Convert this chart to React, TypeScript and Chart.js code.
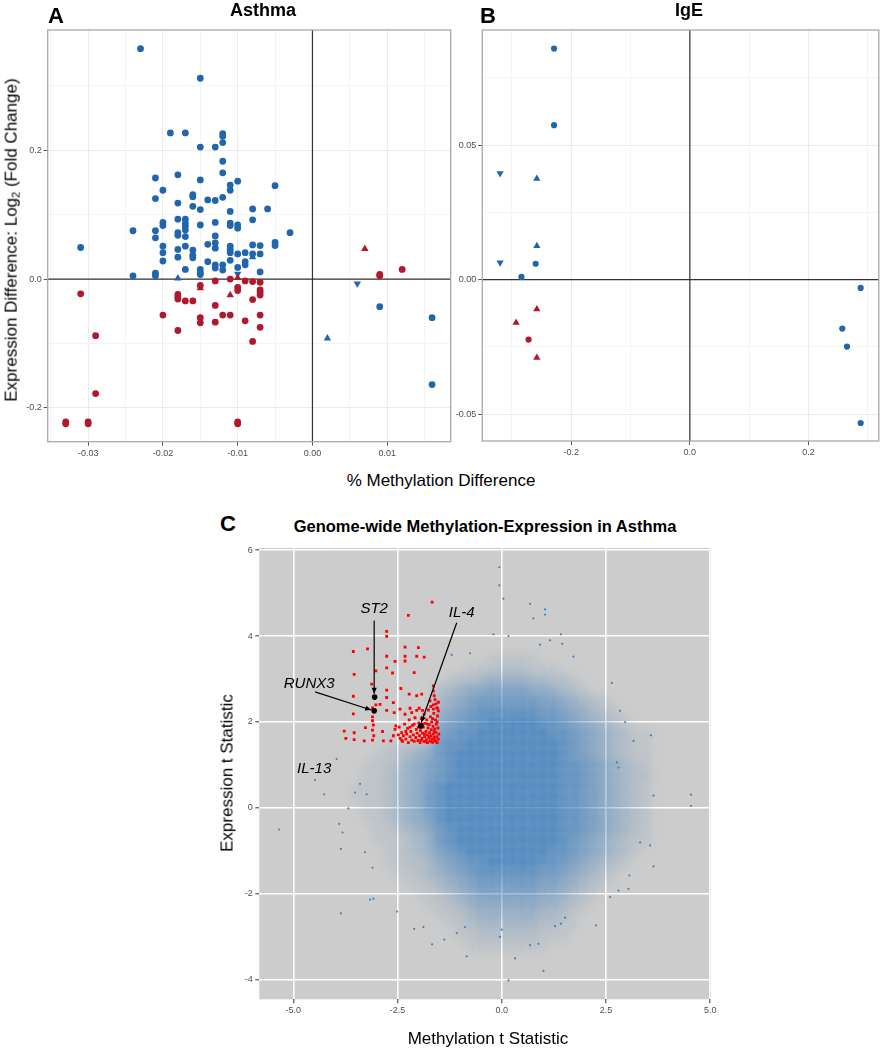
import React, { useEffect, useRef } from "react";
import { Chart, registerables } from "chart.js";
Chart.register(...registerables);

type P = [number, number];

// ---------- Panel A: Asthma ----------
const asthmaBlueCircles: P[] = [
  [-0.023, 0.358], [-0.015, 0.312], [-0.019, 0.227], [-0.017, 0.227], [-0.012, 0.226], [-0.012, 0.222],
  [-0.012, 0.212], [-0.015, 0.205], [-0.013, 0.205], [-0.012, 0.183], [-0.012, 0.165], [-0.021, 0.157],
  [-0.018, 0.162], [-0.015, 0.154], [-0.011, 0.146], [-0.011, 0.138], [-0.010, 0.152], [-0.005, 0.145],
  [-0.020, 0.138], [-0.021, 0.125], [-0.016, 0.131], [-0.016, 0.128], [-0.018, 0.118], [-0.016, 0.113],
  [-0.015, 0.108], [-0.014, 0.123], [-0.013, 0.122], [-0.012, 0.127], [-0.011, 0.105], [-0.008, 0.109],
  [-0.006, 0.109], [-0.018, 0.093], [-0.017, 0.093], [-0.013, 0.088], [-0.008, 0.092], [-0.024, 0.075],
  [-0.021, 0.075], [-0.021, 0.064], [-0.020, 0.088], [-0.020, 0.083], [-0.017, 0.087], [-0.017, 0.082],
  [-0.017, 0.076], [-0.017, 0.066], [-0.018, 0.072], [-0.018, 0.068], [-0.015, 0.084], [-0.013, 0.067],
  [-0.013, 0.056], [-0.013, 0.048], [-0.011, 0.087], [-0.011, 0.083], [-0.010, 0.084], [-0.010, 0.079],
  [-0.003, 0.072], [-0.031, 0.049], [-0.020, 0.051], [-0.020, 0.041], [-0.020, 0.028], [-0.018, 0.046],
  [-0.018, 0.034], [-0.017, 0.051], [-0.017, 0.015], [-0.016, 0.045], [-0.016, 0.037], [-0.016, 0.033],
  [-0.015, 0.015], [-0.015, 0.010], [-0.015, 0.007], [-0.014, 0.054], [-0.014, 0.027], [-0.013, 0.022],
  [-0.013, 0.017], [-0.012, 0.022], [-0.012, 0.014], [-0.011, 0.051], [-0.011, 0.046], [-0.011, 0.041],
  [-0.011, 0.029], [-0.010, 0.039], [-0.010, 0.018], [-0.009, 0.041], [-0.009, 0.027], [-0.009, 0.022],
  [-0.008, 0.053], [-0.008, 0.039], [-0.007, 0.052], [-0.007, 0.039], [-0.007, 0.011], [-0.005, 0.057],
  [-0.005, 0.052], [-0.024, 0.005], [-0.021, 0.009], [-0.021, 0.005], [0.009, -0.043], [0.016, -0.060],
  [0.016, -0.164],
];
const asthmaBlueUp: P[] = [[-0.018, 0.001], [-0.008, 0.034], [0.002, -0.092]];
const asthmaBlueDown: P[] = [[-0.010, 0.008], [0.006, -0.007]];
const asthmaRedCircles: P[] = [
  [-0.031, -0.023], [-0.029, -0.088], [-0.029, -0.178], [-0.033, -0.222], [-0.033, -0.225], [-0.030, -0.222],
  [-0.030, -0.225], [-0.010, -0.222], [-0.010, -0.225], [-0.020, -0.056], [-0.018, -0.024], [-0.018, -0.028],
  [-0.018, -0.031], [-0.018, -0.080], [-0.017, -0.034], [-0.016, -0.034], [-0.015, -0.010], [-0.015, -0.060],
  [-0.015, -0.068], [-0.013, -0.003], [-0.013, -0.041], [-0.013, -0.067], [-0.012, -0.056], [-0.011, 0.000],
  [-0.011, -0.056], [-0.010, -0.013], [-0.010, -0.018], [-0.009, -0.003], [-0.009, -0.065], [-0.008, -0.004],
  [-0.008, -0.032], [-0.008, -0.097], [-0.007, -0.005], [-0.007, -0.017], [-0.007, -0.021], [-0.007, -0.025],
  [-0.007, -0.056], [-0.007, -0.075], [0.009, 0.007], [0.009, 0.005], [0.012, 0.015],
];
const asthmaRedUp: P[] = [[-0.015, -0.014], [-0.011, -0.025], [-0.010, 0.002], [0.007, 0.047]];

// ---------- Panel B: IgE ----------
const igeBlueCircles: P[] = [
  [-0.229, 0.0859], [-0.229, 0.0574], [-0.260, 0.0059], [-0.284, 0.001],
  [0.288, -0.0031], [0.257, -0.0182], [0.265, -0.0249], [0.288, -0.0533],
];
const igeBlueUp: P[] = [[-0.258, 0.0375], [-0.258, 0.0125]];
const igeBlueDown: P[] = [[-0.320, 0.0395], [-0.320, 0.0063]];
const igeRedCircles: P[] = [[-0.272, -0.0223]];
const igeRedUp: P[] = [[-0.258, -0.011], [-0.293, -0.016], [-0.258, -0.029]];

// ---------- Panel C: genome-wide ----------
const genomeRed: P[] = [
  [-1.67, 4.79], [-2.24, 4.48], [-2.76, 4.11], [-2.76, 3.99], [-3.56, 3.64], [-3.22, 3.70], [-2.76, 3.53],
  [-2.56, 3.41], [-2.32, 3.74], [-2.32, 3.53], [-2.32, 3.42], [-2.00, 3.73], [-2.04, 3.53], [-1.86, 3.51],
  [-3.54, 3.11], [-3.02, 3.19], [-2.76, 3.26], [-2.62, 3.14], [-2.10, 3.15], [-3.12, 2.88], [-2.76, 2.74],
  [-2.42, 2.78], [-3.56, 2.60], [-2.76, 2.57], [-2.22, 2.65], [-2.04, 2.61], [-1.92, 2.65], [-1.64, 2.84],
  [-1.64, 2.72], [-1.62, 2.61], [-3.56, 2.19], [-3.10, 2.33], [-3.02, 2.40], [-2.92, 2.41], [-2.60, 2.45],
  [-2.76, 2.27], [-2.58, 2.22], [-2.44, 2.30], [-2.32, 2.18], [-2.20, 2.32], [-2.16, 2.22], [-2.04, 2.27],
  [-1.98, 2.32], [-1.90, 2.27], [-1.72, 2.49], [-1.64, 2.40], [-1.56, 2.33], [-1.52, 2.26], [-3.10, 2.12],
  [-3.10, 2.03], [-3.08, 1.93], [-3.78, 1.79], [-3.54, 1.75], [-3.74, 1.62], [-3.54, 1.59], [-3.30, 1.56],
  [-3.27, 1.87], [-3.10, 1.81], [-3.07, 1.68], [-3.10, 1.58], [-2.86, 1.78], [-2.84, 1.56], [-2.66, 1.56],
  [-2.60, 1.68], [-2.56, 1.83], [-2.54, 1.91],
  [-2.48, 1.70], [-2.44, 1.62], [-2.40, 1.75], [-2.38, 1.55], [-2.36, 1.68], [-2.33, 1.95], [-2.30, 1.60],
  [-2.28, 1.72], [-2.26, 1.85], [-2.24, 1.52], [-2.22, 2.05], [-2.20, 1.66], [-2.18, 1.78], [-2.16, 1.58],
  [-2.14, 1.92], [-2.12, 1.70], [-2.10, 1.55], [-2.08, 2.10], [-2.06, 1.64], [-2.05, 1.83], [-2.03, 1.74],
  [-2.01, 1.57], [-1.99, 1.98], [-1.97, 1.68], [-1.96, 1.52], [-1.95, 1.80], [-1.93, 2.08], [-1.91, 1.62],
  [-1.90, 1.74], [-1.88, 1.88], [-1.87, 1.55], [-1.86, 2.18], [-1.85, 1.66], [-1.84, 1.97], [-1.82, 1.78],
  [-1.81, 1.59], [-1.80, 2.05], [-1.79, 1.70], [-1.78, 1.52], [-1.77, 1.86], [-1.76, 2.28], [-1.75, 1.63],
  [-1.74, 1.94], [-1.73, 1.75], [-1.72, 1.56], [-1.71, 2.12], [-1.70, 1.68], [-1.69, 1.82], [-1.68, 2.00],
  [-1.67, 1.60], [-1.66, 1.53], [-1.65, 1.90], [-1.64, 1.72], [-1.63, 2.20], [-1.62, 1.64], [-1.61, 1.84],
  [-1.60, 1.57], [-1.59, 2.05], [-1.58, 1.76], [-1.57, 1.95], [-1.56, 1.66], [-1.55, 1.52], [-1.54, 2.14],
  [-1.53, 1.86], [-1.52, 1.60], [-1.51, 1.72], [-1.55, 2.00], [-1.58, 1.55], [-1.62, 1.78], [-1.66, 2.08],
  [-1.70, 1.55], [-1.74, 1.66], [-1.78, 1.95], [-1.82, 1.54], [-1.86, 1.72], [-1.90, 1.95], [-1.94, 1.58],
  [-2.00, 1.88], [-2.10, 1.95], [-2.20, 1.88], [-2.30, 1.78], [-2.40, 1.58], [-2.46, 1.88], [-1.64, 2.30],
  [-1.70, 2.36], [-1.58, 2.42], [-1.54, 2.32], [-1.60, 2.52], [-1.52, 2.46],
];
const genomeHighlighted: P[] = [[-3.05, 2.58], [-3.06, 2.26], [-1.94, 1.91]];
const genomeBlueOutliers: P[] = [
  [-0.06, 5.60], [-0.06, 5.18], [0.04, 4.87], [0.68, 4.75], [1.04, 4.62], [1.04, 4.50], [0.76, 4.41],
  [-0.20, 4.04], [0.16, 4.00], [1.42, 4.04], [0.92, 3.80], [1.16, 3.90], [1.45, 3.82], [-1.20, 3.56],
  [-0.76, 3.60], [1.72, 3.52], [2.64, 2.91], [2.96, 2.00], [2.84, 2.26], [3.58, 1.69], [3.16, 1.56],
  [2.76, 1.06], [2.80, 0.94], [-3.96, 1.14], [-4.48, 0.65], [-3.40, 0.56], [-3.52, 0.36], [-3.24, 0.32],
  [3.64, 0.29], [-4.26, 0.32], [-3.68, -0.01], [-5.34, -0.50], [-3.90, -0.37], [-3.82, -0.57],
  [-3.86, -0.95], [-3.28, -1.03], [-3.10, -1.39], [-3.16, -2.13], [-3.08, -2.11], [-3.86, -2.45],
  [-2.51, -2.41], [4.54, 0.31], [4.54, 0.05], [3.32, -0.80], [3.56, -0.87], [3.64, -1.36], [3.04, -1.88],
  [2.80, -1.92], [3.06, -1.57], [2.60, -2.07], [2.26, -2.73], [0.16, -4.01], [1.00, -3.79], [0.32, -3.50],
  [-0.84, -3.45], [-1.67, -3.17], [-1.38, -3.06], [0.68, -3.19], [0.88, -3.16], [-0.04, -3.00],
  [0.00, -2.83], [-1.08, -2.91], [-0.88, -2.77], [1.28, -2.75], [1.42, -2.69], [1.52, -2.55],
  [-2.10, -2.81], [-1.88, -2.77],
];
// estimated point density of the main blue cloud (0 = none ... 9 = solid)
const densityXs = [-3.5, -3.25, -3, -2.75, -2.5, -2.25, -2, -1.75, -1.5, -1.25, -1, -0.75, -0.5, -0.25, 0,
  0.25, 0.5, 0.75, 1, 1.25, 1.5, 1.75, 2, 2.25, 2.5, 2.75, 3, 3.25, 3.5];
const densityYs = [3.75, 3.5, 3.25, 3.0, 2.75, 2.5, 2.25, 2.0, 1.75, 1.5, 1.25, 1.0, 0.75, 0.5, 0.25, 0,
  -0.25, -0.5, -0.75, -1.0, -1.25, -1.5, -1.75, -2.0, -2.25, -2.5, -2.75, -3.0, -3.25, -3.5];
const densityRows = [
  "00000000000000000000000000000",
  "0000000000000" + "11111" + "00000000000",
  "00000000000" + "111222111" + "000000000",
  "000000000" + "1223444433221" + "0000000",
  "00000000" + "234556666554321" + "000000",
  "00000000" + "34567777776654321" + "0000",
  "00000000" + "456788888877654321" + "000",
  "00000000" + "5678899999887654321" + "00",
  "00000000" + "678899999998876543211",
  "00011123" + "788999999999876543211",
  "00112345" + "789999999999876543211",
  "01122456" + "789999999999887654321",
  "01123456" + "789999999999887654322",
  "11123457" + "899999999999887654321",
  "11123457" + "899999999999887654321",
  "01123457" + "899999999999887654321",
  "01123456" + "899999999999887654321",
  "00112345" + "789999999999887654321",
  "00111234" + "789999999999876543211",
  "00011234" + "678999999998876543210",
  "00011223" + "567889999988765432100",
  "00001123" + "456788888877654321000",
  "00000112" + "345677777766543210000",
  "00000011" + "234566666655432100000",
  "00000001" + "123455555544321000000",
  "00000000" + "112344444433210000000",
  "00000000" + "011233333322110000000",
  "00000000" + "001122222211100000000",
  "00000000" + "000111111110000000000",
  "00000000000000000000000000000",
];
const geneNames = ["ST2", "RUNX3", "IL-4", "IL-13"];
const geneLabelX = [-3.06, -4.62, -0.96, -4.5];
const geneLabelY = [4.64, 2.89, 4.54, 0.9];
const arrowFrom: P[] = [[-3.06, 4.36], [-4.48, 2.70], [-1.08, 4.31]];
const arrowTo: P[] = [[-3.06, 2.66], [-3.13, 2.28], [-1.93, 1.99]];

// ---------- styling ----------
const FONT = "'Liberation Sans', Arial, Helvetica, sans-serif";
const BLUE = "#2166AC";
const RED = "#B2182B";

const toXY = (arr: P[]) => arr.map(([x, y]) => ({ x, y }));
const isMult = (v: number, step: number) => {
  const r = v / step;
  return Math.abs(r - Math.round(r)) < 1e-6;
};

function panelPlugin(id: string) {
  return {
    id,
    beforeDatasetsDraw(chart: any) {
      const { ctx, chartArea: a, scales } = chart;
      const x0 = scales.x.getPixelForValue(0);
      const y0 = scales.y.getPixelForValue(0);
      ctx.save();
      ctx.strokeStyle = "#333";
      ctx.lineWidth = 1.2;
      ctx.beginPath();
      ctx.moveTo(a.left, y0);
      ctx.lineTo(a.right, y0);
      ctx.moveTo(x0, a.top);
      ctx.lineTo(x0, a.bottom);
      ctx.stroke();
      ctx.restore();
    },
    afterDraw(chart: any) {
      const { ctx, chartArea: a } = chart;
      ctx.save();
      ctx.strokeStyle = "#a8a8a8";
      ctx.lineWidth = 1.3;
      ctx.strokeRect(a.left, a.top, a.right - a.left, a.bottom - a.top);
      ctx.restore();
    },
  };
}

function pointSet(data: P[], color: string, style: string, radius: number, rotation = 0) {
  return {
    data: toXY(data),
    backgroundColor: color,
    borderWidth: 0,
    pointStyle: style,
    pointRadius: radius,
    pointRotation: rotation,
  };
}

function bwScales(o: {
  xmin: number; xmax: number; xstep: number; xmajor: number; xdec: number;
  ymin: number; ymax: number; ystep: number; ymajor: number; ydec: number;
  yWidth: number; xHeight: number;
}) {
  const tickFont = { family: FONT, size: 9 };
  const grid = (major: number) => ({
    color: (c: any) => (c.tick && isMult(c.tick.value, major) ? "#ebebeb" : "#f4f4f4"),
    lineWidth: 1,
    tickLength: 4,
    tickWidth: 1,
    tickColor: (c: any) => (c.tick && isMult(c.tick.value, major) ? "#555" : "rgba(0,0,0,0)"),
  });
  const fmt = (major: number, dec: number) => (v: any) => {
    const n = Number(v);
    if (!isMult(n, major)) return "";
    return (Math.abs(n) < 1e-9 ? 0 : n).toFixed(dec);
  };
  return {
    x: {
      type: "linear",
      min: o.xmin,
      max: o.xmax,
      border: { display: false },
      grid: grid(o.xmajor),
      ticks: {
        stepSize: o.xstep, includeBounds: false, autoSkip: false, maxRotation: 0,
        padding: 2, color: "#4d4d4d", font: tickFont, callback: fmt(o.xmajor, o.xdec),
      },
      afterFit: (s: any) => { s.height = o.xHeight; },
    },
    y: {
      type: "linear",
      min: o.ymin,
      max: o.ymax,
      border: { display: false },
      grid: grid(o.ymajor),
      ticks: {
        stepSize: o.ystep, includeBounds: false, autoSkip: false,
        padding: 2, color: "#4d4d4d", font: tickFont, callback: fmt(o.ymajor, o.ydec),
      },
      afterFit: (s: any) => { s.width = o.yWidth; },
    },
  };
}

const common = {
  responsive: false,
  maintainAspectRatio: false,
  animation: false as const,
  events: [] as any[],
  plugins: { legend: { display: false }, tooltip: { enabled: false } },
};

function useChart(ref: React.RefObject<HTMLCanvasElement>, make: () => any) {
  useEffect(() => {
    if (!ref.current) return;
    const chart = new Chart(ref.current, make());
    return () => chart.destroy();
  }, []);
}

function buildDensity() {
  const pts: { x: number; y: number; d: number }[] = [];
  densityRows.forEach((row, r) => {
    for (let i = 0; i < densityXs.length; i++) {
      const d = parseInt(row.charAt(i) || "0", 10);
      if (d > 0) pts.push({ x: densityXs[i], y: densityYs[r], d });
    }
  });
  return pts;
}
const densityAlpha = [0, 0.06, 0.12, 0.2, 0.29, 0.39, 0.5, 0.62, 0.76, 0.92];
const DENSITY_INDEX = 3;

const genomePlugin = {
  id: "genome",
  beforeDraw(chart: any) {
    const { ctx, chartArea: a } = chart;
    ctx.save();
    ctx.fillStyle = "#cccccc";
    ctx.fillRect(a.left, a.top, a.right - a.left, a.bottom - a.top);
    ctx.restore();
  },
  beforeDatasetDraw(chart: any, args: any) {
    if (args.index === DENSITY_INDEX) {
      chart.ctx.save();
      chart.ctx.filter = "blur(4px)";
    }
  },
  afterDatasetDraw(chart: any, args: any) {
    if (args.index === DENSITY_INDEX) {
      chart.ctx.restore();
    }
  },
  afterDatasetsDraw(chart: any) {
    const { ctx, scales } = chart;
    const sx = scales.x, sy = scales.y;
    ctx.save();
    ctx.filter = "none";
    ctx.strokeStyle = "#000";
    ctx.fillStyle = "#000";
    ctx.lineWidth = 1.2;
    arrowFrom.forEach((f, k) => {
      const x1 = sx.getPixelForValue(f[0]), y1 = sy.getPixelForValue(f[1]);
      const x2 = sx.getPixelForValue(arrowTo[k][0]), y2 = sy.getPixelForValue(arrowTo[k][1]);
      const ang = Math.atan2(y2 - y1, x2 - x1);
      ctx.beginPath();
      ctx.moveTo(x1, y1);
      ctx.lineTo(x2, y2);
      ctx.stroke();
      const L = 6, W = 2.6;
      ctx.beginPath();
      ctx.moveTo(x2, y2);
      ctx.lineTo(x2 - L * Math.cos(ang) + W * Math.sin(ang), y2 - L * Math.sin(ang) - W * Math.cos(ang));
      ctx.lineTo(x2 - L * Math.cos(ang) - W * Math.sin(ang), y2 - L * Math.sin(ang) + W * Math.cos(ang));
      ctx.closePath();
      ctx.fill();
    });
    ctx.font = `italic 15px ${FONT}`;
    ctx.textAlign = "center";
    ctx.textBaseline = "middle";
    geneNames.forEach((n, k) => {
      ctx.fillText(n, sx.getPixelForValue(geneLabelX[k]), sy.getPixelForValue(geneLabelY[k]));
    });
    ctx.restore();
  },
};

function PanelA() {
  const ref = useRef<HTMLCanvasElement>(null);
  useChart(ref, () => ({
    type: "scatter",
    data: {
      datasets: [
        pointSet(asthmaRedUp, RED, "triangle", 4.3),
        pointSet(asthmaBlueUp, BLUE, "triangle", 4.3),
        pointSet(asthmaBlueDown, BLUE, "triangle", 4.3, 180),
        pointSet(asthmaRedCircles, RED, "circle", 3.4),
        pointSet(asthmaBlueCircles, BLUE, "circle", 3.4),
      ],
    },
    options: {
      ...common,
      layout: { padding: { top: 30, right: 3, left: 0, bottom: 0 } },
      scales: bwScales({
        xmin: -0.03541, xmax: 0.01849, xstep: 0.005, xmajor: 0.01, xdec: 2,
        ymin: -0.2528, ymax: 0.387, ystep: 0.1, ymajor: 0.2, ydec: 1,
        yWidth: 47.7, xHeight: 28.3,
      }),
    },
    plugins: [panelPlugin("panelA")],
  }));
  return <canvas ref={ref} width={455} height={470} style={{ position: "absolute", left: 0, top: 0, width: 455, height: 470 }} />;
}

function PanelB() {
  const ref = useRef<HTMLCanvasElement>(null);
  useChart(ref, () => ({
    type: "scatter",
    data: {
      datasets: [
        pointSet(igeRedUp, RED, "triangle", 4.2),
        pointSet(igeBlueUp, BLUE, "triangle", 4.2),
        pointSet(igeBlueDown, BLUE, "triangle", 4.2, 180),
        pointSet(igeRedCircles, RED, "circle", 3.1),
        pointSet(igeBlueCircles, BLUE, "circle", 3.1),
      ],
    },
    options: {
      ...common,
      layout: { padding: { top: 30, right: 2.3, left: 0, bottom: 0 } },
      scales: bwScales({
        xmin: -0.35, xmax: 0.3186, xstep: 0.1, xmajor: 0.2, xdec: 1,
        ymin: -0.06, ymax: 0.0928, ystep: 0.025, ymajor: 0.05, ydec: 2,
        yWidth: 27.3, xHeight: 29,
      }),
    },
    plugins: [panelPlugin("panelB")],
  }));
  return <canvas ref={ref} width={428} height={470} style={{ position: "absolute", left: 455, top: 0, width: 428, height: 470 }} />;
}

function PanelC() {
  const ref = useRef<HTMLCanvasElement>(null);
  useChart(ref, () => {
    const tickFont = { family: FONT, size: 9 };
    const grid = { color: "#ffffff", lineWidth: 1.6, tickLength: 4, tickWidth: 1, tickColor: "#333" };
    return {
      type: "scatter",
      data: {
        datasets: [
          pointSet(genomeHighlighted, "#000000", "circle", 2.8),
          pointSet(genomeRed, "#ff0000", "rect", 2),
          pointSet(genomeBlueOutliers, "rgba(52,128,200,0.95)", "circle", 1.1),
          {
            data: buildDensity(),
            borderWidth: 0,
            pointStyle: "rect",
            pointRadius: 7.6,
            backgroundColor: (c: any) => `rgba(42,118,192,${densityAlpha[(c.raw && c.raw.d) || 0]})`,
          },
        ],
      },
      options: {
        ...common,
        layout: { padding: { top: 6.7, right: 49, left: 0, bottom: 0 } },
        scales: {
          x: {
            type: "linear", min: -5.816, max: 5.02,
            border: { display: false }, grid,
            ticks: {
              stepSize: 2.5, includeBounds: false, autoSkip: false, maxRotation: 0, padding: 2,
              color: "#4d4d4d", font: tickFont,
              callback: (v: any) => (Math.abs(Number(v)) < 1e-9 ? 0 : Number(v)).toFixed(1),
            },
            afterFit: (s: any) => { s.height = 50.7; },
          },
          y: {
            type: "linear", min: -4.45, max: 6.05,
            border: { display: false }, grid,
            ticks: {
              stepSize: 2, includeBounds: false, autoSkip: false, padding: 2.5,
              color: "#4d4d4d", font: tickFont,
              callback: (v: any) => String(Math.round(Number(v))),
            },
            afterFit: (s: any) => { s.width = 59.3; },
          },
        },
      },
      plugins: [genomePlugin],
    };
  });
  return <canvas ref={ref} width={560} height={510} style={{ position: "absolute", left: 200, top: 540, width: 560, height: 510 }} />;
}

const txt = (cx: number, cy: number, size: number, bold: boolean, rotate = false): React.CSSProperties => ({
  position: "absolute",
  left: cx,
  top: cy,
  transform: `translate(-50%, -50%)${rotate ? " rotate(-90deg)" : ""}`,
  fontFamily: FONT,
  fontSize: size,
  fontWeight: bold ? "bold" : "normal",
  lineHeight: 1,
  whiteSpace: "nowrap",
  color: "#000",
});

export default function App() {
  return (
    <div style={{ position: "absolute", left: 0, top: 0, width: 883, height: 1050, background: "#fff", overflow: "hidden" }}>
      <PanelA />
      <PanelB />
      <PanelC />
      <div style={txt(56, 16, 22, true)}>A</div>
      <div style={txt(263, 10, 18, true)}>Asthma</div>
      <div style={txt(488, 16, 22, true)}>B</div>
      <div style={txt(689, 10, 18, true)}>IgE</div>
      <div style={txt(12, 240, 17, false, true)}>
        Expression Difference: Log<sub style={{ fontSize: 11, verticalAlign: "-0.25em" }}>2</sub> (Fold Change)
      </div>
      <div style={txt(441, 480, 17, false)}>% Methylation Difference</div>
      <div style={txt(228, 524, 22, true)}>C</div>
      <div style={txt(485, 526, 16.5, true)}>Genome-wide Methylation-Expression in Asthma</div>
      <div style={txt(227, 773, 17, false, true)}>Expression t Statistic</div>
      <div style={txt(488, 1038, 17, false)}>Methylation t Statistic</div>
    </div>
  );
}
